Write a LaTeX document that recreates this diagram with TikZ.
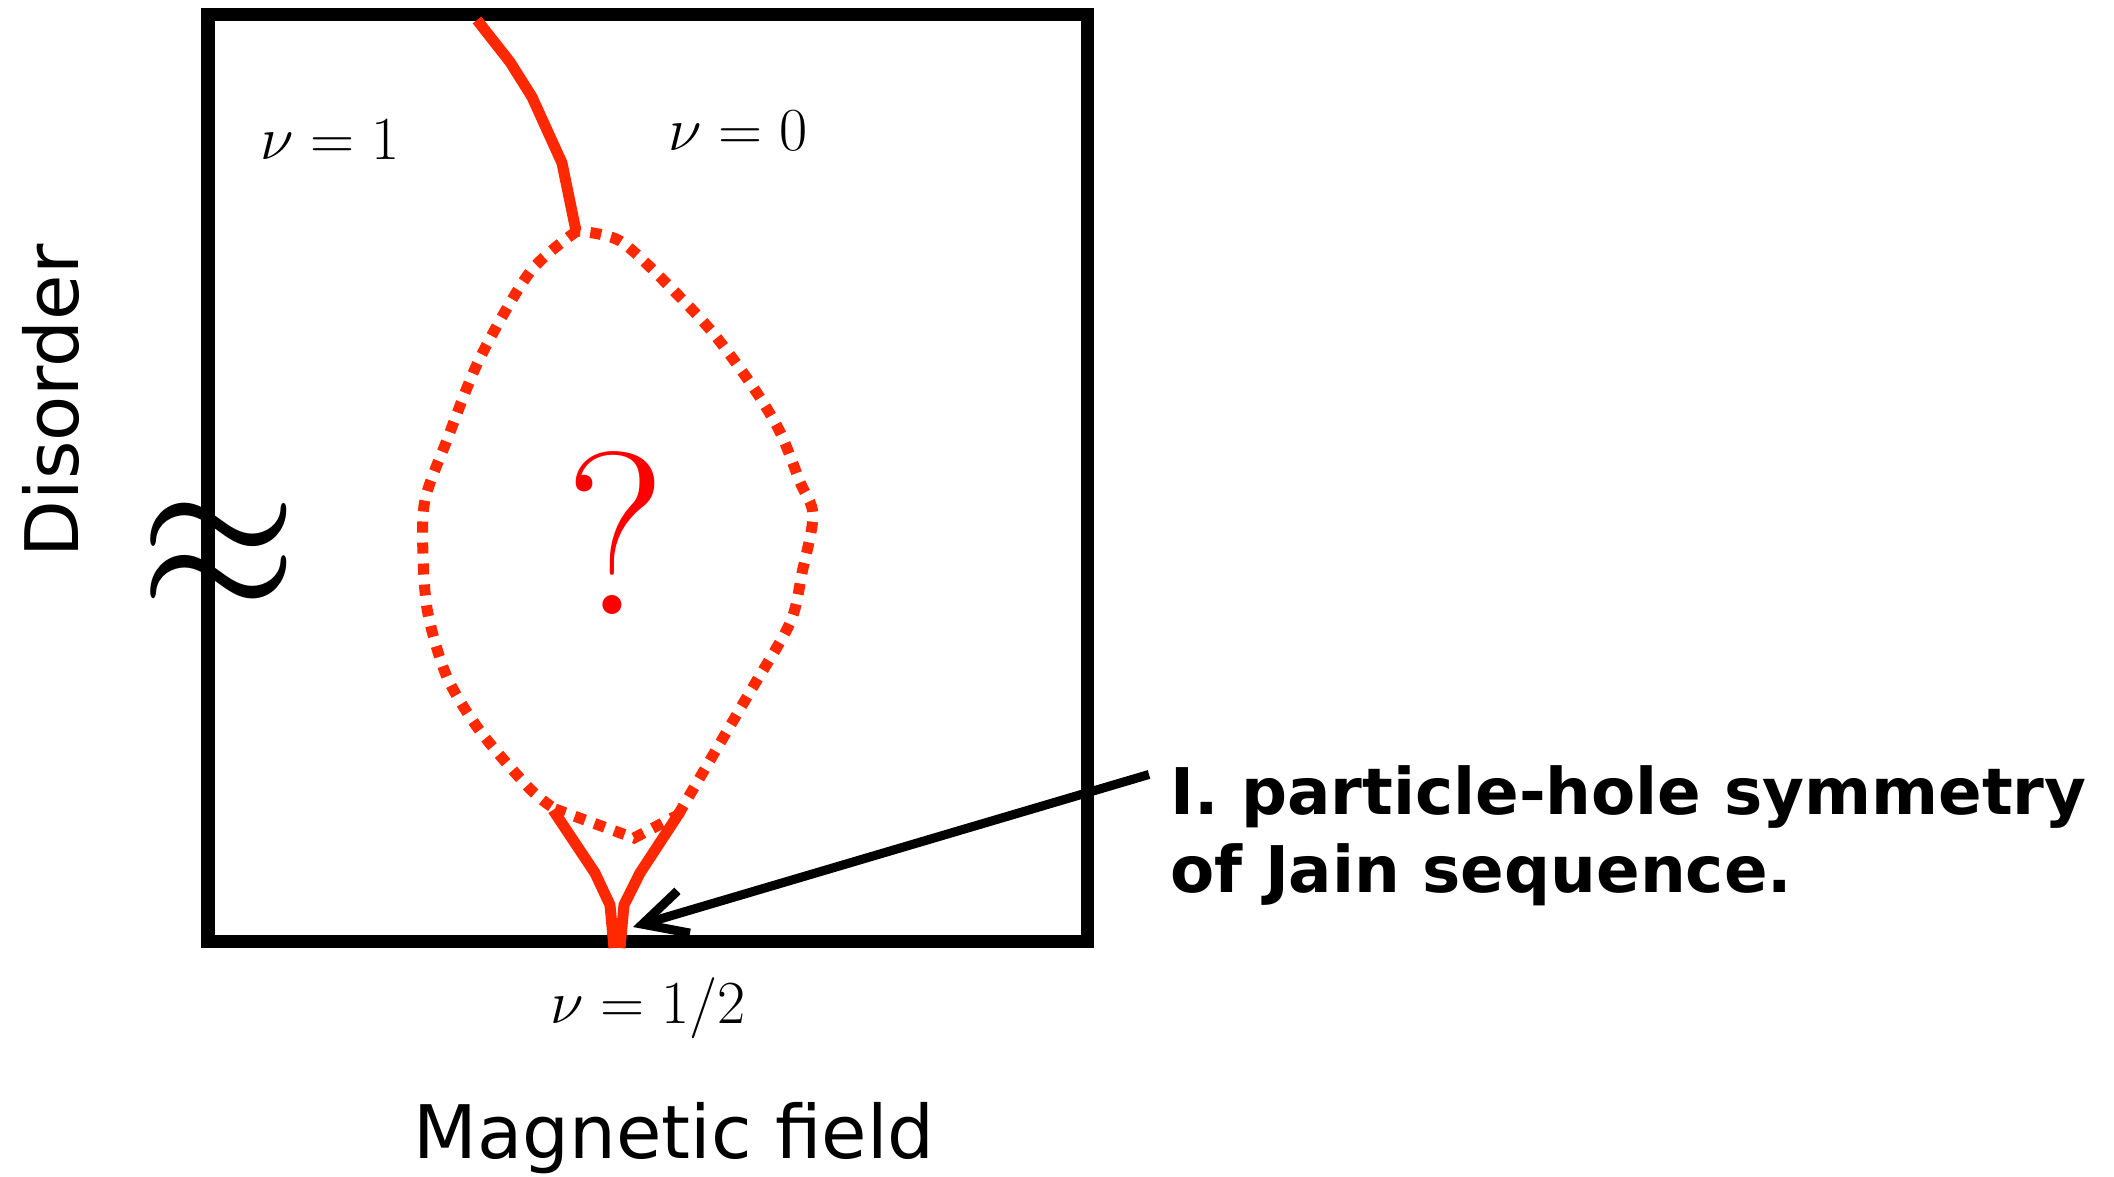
\RequirePackage{fix-cm}
\documentclass[tikz,border=0pt]{standalone}
\usepackage{fontspec}
\setsansfont{DejaVu Sans}
\usetikzlibrary{arrows.meta, positioning, calc}
\definecolor{PhaseRed}{RGB}{255, 40, 0}
\tikzset{
  frameline/.style={line width=1.3mm},
  phaseline/.style={draw=PhaseRed, line width=1.1mm},
  dotline/.style={draw=PhaseRed, line width=1.1mm, dash pattern=on 1.1mm off 1.0mm},
  ptr/.style={-{Straight Barb[length=4.3mm, width=4.4mm]}, line width=0.9mm},
  lbl/.style={font=\fontsize{17.4}{20}\selectfont},
  axislbl/.style={font=\sffamily\fontsize{21}{25}\selectfont},
  note/.style={font=\sffamily\bfseries\fontsize{18.3}{22}\selectfont, anchor=base west},
}

\begin{document}
\begin{tikzpicture}[x=0.01cm, y=-0.01cm]
  \useasboundingbox (0,0) rectangle (2114,1177);

  % frame
  \draw[frameline] (208,15) rectangle (1087,942);

  % phase boundaries
  \draw[phaseline] (477,20) -- (510,62) -- (532,97) -- (562,163) -- (576,231);
  \draw[phaseline] (553,810) -- (595,873) -- (610,905) -- (614,948);
  \draw[phaseline] (680,812) -- (640,873) -- (624,905) -- (620,948);
  \draw[dotline] plot[smooth, tension=0.5] coordinates {(577,231) (530,272) (480,358)
      (447,440) (425,500) (423,556) (428,614) (447,677) (480,731) (530,789) (555,809)};
  \draw[dotline] (555,809) -- (634,838) -- (678,815);
  \draw[dotline] plot[smooth, tension=0.5] coordinates {(678,815) (747,697) (790,623)
      (802,573) (813,515) (800,482) (780,432) (753,387) (713,333) (670,287) (620,241) (577,231)};
  \coordinate (cusp) at (633,927);

  % labels
  \node[lbl] (nuone)  at (330,140) {$\nu=1$};
  \node[lbl] (nuzero) at (738,131) {$\nu=0$};
  \node[lbl] (nuhalf) at (648,1008) {$\nu=1/2$};
  \node[text=red, font=\fontsize{66}{66}\selectfont] (qmark) at (616,533) {?};
  \node[font=\fontsize{58}{58}\selectfont, yscale=1.1] (approx) at (219,557) {$\approx$};
  \node[axislbl, anchor=base] (bfield) at (674,1159) {Magnetic field};
  \node[axislbl, anchor=base, rotate=90] (disorder) at (78,401) {Disorder};

  % note
  \node[note] (ph)   at (1158,815) {I. particle-hole symmetry};
  \node[note] (jain) at (1158,893) {of Jain sequence.};
  \draw[ptr] ([xshift=-0.9mm, yshift=2.3mm]ph.west) -- (cusp);
\end{tikzpicture}
\end{document}
